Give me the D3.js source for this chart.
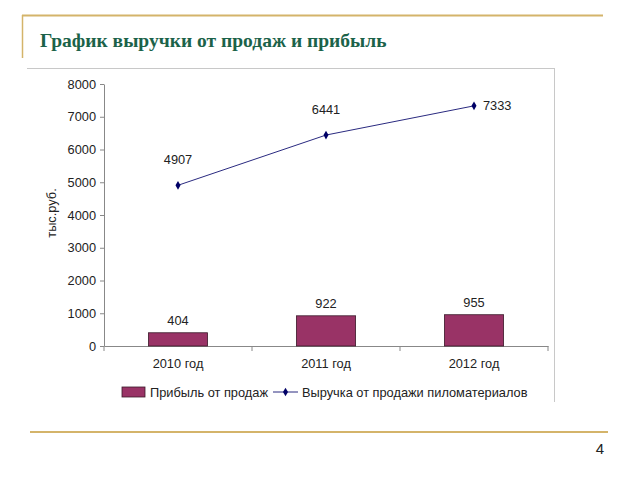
<!DOCTYPE html>
<html><head><meta charset="utf-8">
<script src="https://cdn.jsdelivr.net/npm/d3@7"></script>
<style>body{margin:0;background:#fff;}svg{display:block;}</style>
</head><body>
<svg id="c" width="640" height="480"></svg>
<script>
const categories = ["2010 год", "2011 год", "2012 год"];
const profit = [404, 922, 955];
const revenue = [4907, 6441, 7333];
const yTicks = [0, 1000, 2000, 3000, 4000, 5000, 6000, 7000, 8000];
const titleText = "График выручки от продаж и прибыль";
const yLabel = "тыс.руб.";
const legendProfit = "Прибыль от продаж";
const legendRevenue = "Выручка от продажи пиломатериалов";
const pageNum = "4";

(function(){
const svg = d3.select("#c");
const gold = "#d4b46a";
const fs = 12.8;
svg.append("line").attr("x1",22).attr("x2",603).attr("y1",15.5).attr("y2",15.5).attr("stroke",gold).attr("stroke-width",2);
svg.append("line").attr("x1",22.5).attr("x2",22.5).attr("y1",15).attr("y2",58).attr("stroke",gold).attr("stroke-width",1.5);
svg.append("text").attr("x",40).attr("y",47).attr("font-family","Liberation Serif, serif").attr("font-size",19.5)
  .attr("font-weight","bold").attr("fill","#1b6249").text(titleText);
svg.append("line").attr("x1",30).attr("x2",608).attr("y1",432).attr("y2",432).attr("stroke",gold).attr("stroke-width",2);
svg.append("text").attr("x",604).attr("y",454).attr("text-anchor","end").attr("font-family","Liberation Sans, Arial, sans-serif")
  .attr("font-size",15).attr("fill","#222").text(pageNum);

svg.append("line").attr("x1",27).attr("x2",554).attr("y1",68.5).attr("y2",68.5).attr("stroke","#c8c8c8");
svg.append("line").attr("x1",554.5).attr("x2",554.5).attr("y1",68).attr("y2",402).attr("stroke","#c8c8c8");

const pl = 104, pr = 548, pt = 84, pb = 346;
const x = d3.scaleBand().domain(categories).range([pl, pr]);
const y = d3.scaleLinear().domain([0, 8000]).range([pb, pt]);
const font = "Liberation Sans, Arial, sans-serif";

const yAxis = svg.append("g").attr("transform",`translate(${pl},0)`)
  .call(d3.axisLeft(y).tickValues(yTicks).tickSize(4).tickSizeOuter(0).tickFormat(d3.format("d")));
yAxis.select(".domain").attr("stroke","#888");
yAxis.selectAll(".tick line").attr("stroke","#888");
yAxis.selectAll("text").attr("font-family",font).attr("font-size",fs).attr("fill","#222").attr("x",-8);

const xAxis = svg.append("g").attr("transform",`translate(0,${pb})`)
  .call(d3.axisBottom(x).tickSize(0).tickSizeOuter(0));
xAxis.select(".domain").attr("stroke","#888");
xAxis.selectAll("text").attr("font-family",font).attr("font-size",fs).attr("fill","#222").attr("y",13).attr("dy","0.71em");
svg.append("g").selectAll("line").data(categories.map(c=>x(c)).concat([pr])).join("line")
  .attr("x1",d=>d).attr("x2",d=>d).attr("y1",pb).attr("y2",pb+5).attr("stroke","#888");

svg.append("text").attr("transform",`translate(56,${(pt+pb)/2 - 2}) rotate(-90)`).attr("text-anchor","middle")
  .attr("font-family",font).attr("font-size",fs).attr("fill","#222").text(yLabel);

const bw = x.bandwidth()*0.4;
svg.append("g").selectAll("rect").data(profit).join("rect")
  .attr("x",(d,i)=>x(categories[i])+x.bandwidth()/2-bw/2).attr("width",bw)
  .attr("y",d=>y(d)).attr("height",d=>pb-y(d))
  .attr("fill","#993366").attr("stroke","#3a1a2a").attr("stroke-width",0.8);
svg.append("g").selectAll("text").data(profit).join("text")
  .attr("x",(d,i)=>x(categories[i])+x.bandwidth()/2).attr("y",d=>y(d)-8)
  .attr("text-anchor","middle").attr("font-family",font).attr("font-size",fs).attr("fill","#222").text(d=>d);

const line = d3.line().x((d,i)=>x(categories[i])+x.bandwidth()/2).y(d=>y(d));
svg.append("path").datum(revenue).attr("d",line).attr("fill","none").attr("stroke","#2a2a80").attr("stroke-width",1);
const diamond = d3.symbol().type(d3.symbolDiamond).size(22);
svg.append("g").selectAll("path").data(revenue).join("path")
  .attr("d",diamond).attr("transform",(d,i)=>`translate(${x(categories[i])+x.bandwidth()/2},${y(d)})`).attr("fill","#000066");
svg.append("g").selectAll("text").data(revenue).join("text")
  .attr("x",(d,i)=> i===2 ? x(categories[i])+x.bandwidth()/2+9 : x(categories[i])+x.bandwidth()/2)
  .attr("y",(d,i)=> i===2 ? y(d)+4 : y(d)-21)
  .attr("text-anchor",(d,i)=> i===2 ? "start" : "middle")
  .attr("font-family",font).attr("font-size",fs).attr("fill","#222").text(d=>d);

const lg = svg.append("g").attr("font-family",font).attr("font-size",fs).attr("fill","#222");
lg.append("rect").attr("x",122).attr("y",387).attr("width",23).attr("height",10).attr("fill","#993366").attr("stroke","#3a1a2a").attr("stroke-width",0.8);
lg.append("text").attr("x",150).attr("y",396.5).text(legendProfit);
lg.append("line").attr("x1",273).attr("x2",298).attr("y1",392).attr("y2",392).attr("stroke","#2a2a80");
lg.append("path").attr("d",diamond).attr("transform","translate(285.5,392)").attr("fill","#000066");
lg.append("text").attr("x",302).attr("y",396.5).text(legendRevenue);
})();
</script>
</body></html>
